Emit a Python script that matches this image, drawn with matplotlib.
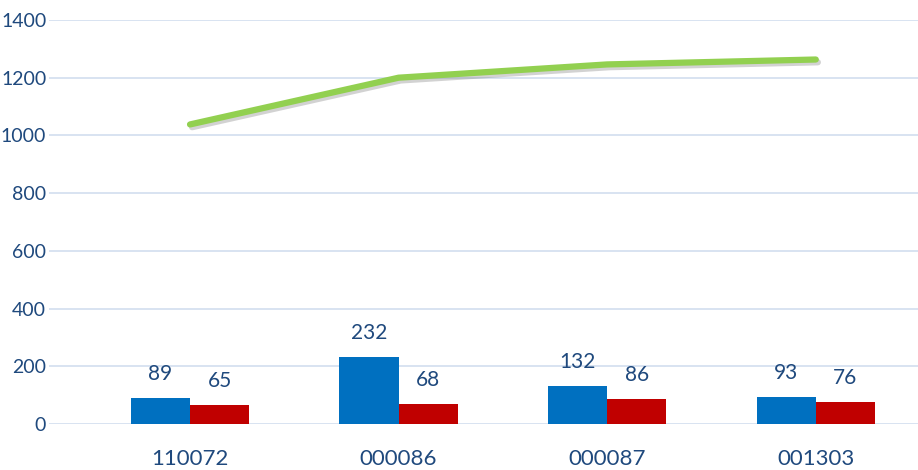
import numpy as np
import matplotlib.pyplot as plt
import matplotlib.patheffects as pe

categories = ['110072', '000086', '000087', '001303']
blue_vals = [89, 232, 132, 93]
red_vals = [65, 68, 86, 76]
line_vals = [1038, 1200, 1246, 1263]

plt.rcParams['font.family'] = ['Lato', 'DejaVu Sans']
txt_color = '#1F497D'

fig = plt.figure(figsize=(9.18, 4.70), dpi=100)
ax = fig.add_axes([0.0534, 0.0979, 0.9466, 0.8596])

x = np.arange(len(categories))
w = 0.284

bars_b = ax.bar(x - w/2, blue_vals, w, color='#0070C0', zorder=3)
bars_r = ax.bar(x + w/2, red_vals, w, color='#C00000', zorder=3)

ax.plot(x, line_vals, color='#92D050', lw=4.5, solid_capstyle='round', zorder=4,
        path_effects=[pe.SimpleLineShadow(offset=(1.5, -2), shadow_color='gray', alpha=0.35),
                      pe.Normal()])

for bars in (bars_b, bars_r):
    for b in bars:
        ax.annotate(str(int(b.get_height())), (b.get_x() + b.get_width()/2, b.get_height()),
                    xytext=(0, 10), textcoords='offset points', ha='center', va='bottom',
                    fontsize=15, color=txt_color)

ax.set_xlim(-0.676, 3.49)
ax.set_ylim(0, 1400)
ax.set_yticks(range(0, 1401, 200))
ax.set_xticks(x)
ax.set_xticklabels(categories)
ax.tick_params(axis='both', length=0, labelcolor=txt_color)
ax.tick_params(axis='x', pad=18, labelsize=16)
ax.tick_params(axis='y', pad=2, labelsize=14)
ax.grid(axis='y', color='#D6E1F0', lw=1.3, zorder=0)
for s in ax.spines.values():
    s.set_visible(False)

fig.savefig('out.png', dpi=100)
